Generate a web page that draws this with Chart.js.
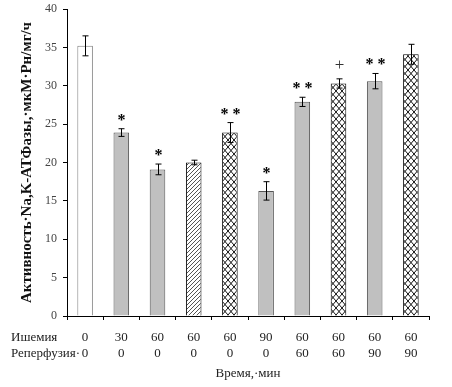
<!DOCTYPE html>
<html>
<head>
<meta charset="utf-8">
<script src="https://cdn.jsdelivr.net/npm/chart.js@4"></script>
<style>
  html, body { margin: 0; padding: 0; background: #fff; }
  #wrap { width: 452px; height: 387px; }
</style>
</head>
<body>
<div id="wrap"><canvas id="atpChart" width="452" height="387"></canvas></div>
<script>
// данные с рисунка
const ischemia = ['0', '30', '60', '60', '60', '90', '60', '60', '60', '60'];
const reperfusion = ['0', '0', '0', '0', '0', '0', '60', '60', '90', '90'];
const activity = [35.2, 23.9, 19.1, 20.0, 23.9, 16.3, 27.9, 30.3, 30.6, 34.1];
const errors = [1.3, 0.5, 0.7, 0.3, 1.3, 1.2, 0.6, 0.6, 1.0, 1.3];
const marks = ['', '*', '*', '', '**', '*', '**', '+', '**', ''];
const fills = ['white', 'gray', 'gray', 'hatch', 'cross', 'gray', 'gray', 'cross', 'gray', 'cross'];
const yTicks = [0, 5, 10, 15, 20, 25, 30, 35, 40];

const serif = '"Liberation Serif", "DejaVu Serif", serif';

// штриховка
function hatchPattern() {
    const c = document.createElement('canvas');
    c.width = 4; c.height = 4;
    const g = c.getContext('2d');
    g.fillStyle = '#fff';
    g.fillRect(0, 0, 4, 4);
    g.strokeStyle = '#555';
    g.lineWidth = 1;
    g.beginPath();
    g.moveTo(-1, 5); g.lineTo(5, -1);
    g.moveTo(-1, 1); g.lineTo(1, -1);
    g.moveTo(3, 5); g.lineTo(5, 3);
    g.stroke();
    return g.createPattern(c, 'repeat');
}

function crossPattern() {
    const c = document.createElement('canvas');
    c.width = 6; c.height = 7;
    const g = c.getContext('2d');
    g.fillStyle = '#fff';
    g.fillRect(0, 0, 6, 7);
    g.strokeStyle = '#111';
    g.lineWidth = 1;
    g.beginPath();
    g.moveTo(0, 0); g.lineTo(6, 7);
    g.moveTo(6, 0); g.lineTo(0, 7);
    g.stroke();
    return g.createPattern(c, 'repeat');
}

const patterns = { hatch: hatchPattern(), cross: crossPattern() };

const bgColors = fills.map(f => f === 'white' ? '#ffffff' : f === 'gray' ? '#c0c0c0' : patterns[f]);
const borderColors = fills.map(f => f === 'white' ? '#808080' : f === 'gray' ? '#555555' : '#000000');

// погрешности и звёздочки
const errorBars = {
    id: 'errorBars',
    afterDatasetsDraw(chart) {
        const ctx = chart.ctx;
        const y = chart.scales.y;
        const meta = chart.getDatasetMeta(0);
        ctx.save();
        ctx.strokeStyle = '#000';
        ctx.lineWidth = 1;
        meta.data.forEach((bar, i) => {
            const x = Math.round(bar.x) + 0.5;
            const top = y.getPixelForValue(activity[i] + errors[i]);
            const bot = y.getPixelForValue(activity[i] - errors[i]);
            ctx.beginPath();
            ctx.moveTo(x, top); ctx.lineTo(x, bot);
            ctx.moveTo(x - 3, top); ctx.lineTo(x + 3, top);
            ctx.moveTo(x - 3, bot); ctx.lineTo(x + 3, bot);
            ctx.stroke();
            if (marks[i]) {
                ctx.fillStyle = '#000';
                ctx.textAlign = 'center';
                ctx.textBaseline = 'alphabetic';
                if (marks[i] === '+') {
                    ctx.font = '17px ' + serif;
                    ctx.fillStyle = '#333';
                    ctx.fillText('+', x, top - 9);
                } else {
                    ctx.font = 'bold 16px ' + serif;
                    ctx.fillText(marks[i] === '**' ? '* *' : '*', x, top - 4);
                }
            }
        });
        ctx.restore();
    }
};

// подписи строк под осью
const rowLabels = {
    id: 'rowLabels',
    afterDraw(chart) {
        const ctx = chart.ctx;
        ctx.save();
        ctx.font = '13px ' + serif;
        ctx.fillStyle = '#222';
        ctx.textAlign = 'left';
        ctx.textBaseline = 'middle';
        ctx.fillText('Ишемия', 11, 338);
        ctx.fillText('Реперфузия·', 11, 354);
        ctx.restore();
    }
};

new Chart(document.getElementById('atpChart'), {
    type: 'bar',
    data: {
        labels: ischemia.map((v, i) => [v, reperfusion[i]]),
        datasets: [{
            data: activity,
            backgroundColor: bgColors,
            borderColor: borderColors,
            borderWidth: 1,
            categoryPercentage: 1,
            barPercentage: 0.43
        }]
    },
    options: {
        responsive: false,
        animation: false,
        layout: { padding: { left: 0, right: 23, top: 9, bottom: 0 } },
        plugins: { legend: { display: false }, tooltip: { enabled: false } },
        scales: {
            x: {
                offset: true,
                border: { color: '#000', width: 1 },
                grid: { offset: true, drawOnChartArea: false, drawTicks: true, tickLength: 4, color: '#000' },
                ticks: { color: '#222', font: { family: serif, size: 13 }, padding: 10, maxRotation: 0 },
                title: { display: true, text: 'Время,·мин', color: '#222', font: { family: serif, size: 13 }, padding: { top: 0, bottom: 6 } },
                afterFit(scale) { scale.height = 71; }
            },
            y: {
                min: 0,
                max: 40,
                afterBuildTicks(scale) { scale.ticks = yTicks.map(v => ({ value: v })); },
                border: { color: '#000', width: 1 },
                grid: { drawOnChartArea: false, drawTicks: true, tickLength: 4, color: '#000' },
                ticks: { color: '#444', font: { family: serif, size: 12 }, padding: 6 },
                title: {
                    display: true,
                    text: 'Активность·Na,K-АТФазы,·мкМ·Pн/мг/ч',
                    color: '#111',
                    font: { family: serif, size: 15, weight: 'bold' },
                    padding: { top: 18, bottom: 0 }
                },
                afterFit(scale) {
                    scale.width = 67;
                    scale.paddingTop = 0;
                    scale.paddingBottom = 0;
                }
            }
        }
    },
    plugins: [errorBars, rowLabels]
});
</script>
</body>
</html>
